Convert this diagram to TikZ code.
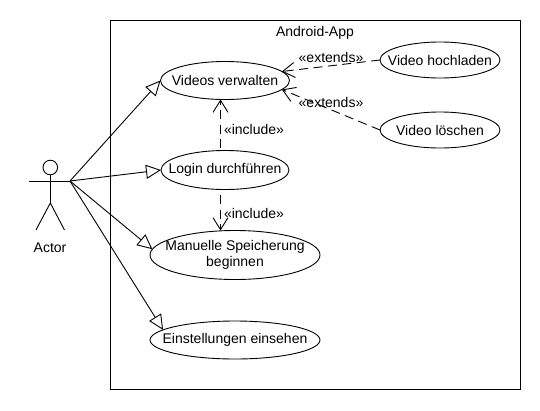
\documentclass[tikz,border=0pt]{standalone}
\usepackage{fontspec}
\setmainfont{Liberation Sans}
\usetikzlibrary{arrows.meta}
\usetikzlibrary{shapes.geometric}
\tikzset{
  usecase/.style={draw=black,fill=white,ellipse,inner sep=0pt,outer sep=0pt},
  label text/.style={inner sep=0pt,font=\fontsize{14}{16}\selectfont,text=black,align=center},
  general/.style={draw=black,line width=0.9pt,-{Triangle[open,fill=white,length=15pt,width=14pt,line width=0.9pt]}},
  dep/.style={draw=black,line width=0.9pt,dash pattern=on 9pt off 5.5pt,-{Straight Barb[length=12pt,width=15pt,line width=0.9pt]}},
  limb/.style={draw=black,line width=0.9pt},
}
\begin{document}
\begin{tikzpicture}[x=1pt,y=-1pt,line width=0.9pt]
\useasboundingbox (0,0) rectangle (540,410);
\fill[white] (0,0) rectangle (540,410);
\node[draw=black,minimum width=410pt,minimum height=369pt,inner sep=0pt,outer sep=0pt] (frame) at (315,204.5) {};
\node[label text] (title) at (315,33) {Android-App};
% actor
\node[draw=black,circle,minimum size=14.6pt,inner sep=0pt,outer sep=0pt] (head) at (50.3,167.5) {};
\coordinate (hip) at (50.3,203);
\coordinate (handL) at (29,181);
\coordinate (handR) at (70,181);
\coordinate (footL) at (36,230);
\coordinate (footR) at (64.5,230);
\draw[limb] (head.south) -- (hip);
\draw[limb] (handL) -- (handR);
\draw[limb] (footL) -- (hip) -- (footR);
\node[label text] (actor) at (50,248) {Actor};
% use cases
\node[usecase,minimum width=129pt,minimum height=38pt,label={[label text]center:Videos verwalten}] (videos) at (225,80.5) {};
\node[usecase,minimum width=120pt,minimum height=36pt,label={[label text]center:Video hochladen}] (upload) at (440,60) {};
\node[usecase,minimum width=120pt,minimum height=36pt,label={[label text]center:Video löschen}] (delete) at (440,130) {};
\node[usecase,minimum width=128pt,minimum height=39pt,label={[label text]center:Login durchführen}] (login) at (225,170) {};
\node[usecase,minimum width=170pt,minimum height=49pt,label={[label text]center:{Manuelle Speicherung\\beginnen}}] (manual) at (235,255) {};
\node[usecase,minimum width=170pt,minimum height=38pt,label={[label text]center:Einstellungen einsehen}] (settings) at (235,340) {};
% generalisations
\draw[general] (handR) -- (videos.west);
\draw[general] (handR) -- (login.west);
\draw[general] (handR) -- (manual.176.5);
\draw[general] (handR) -- (settings.172.6);
% dependencies
\draw[dep] (upload.west) -- (videos.9);
\draw[dep] (delete.west) -- (videos.-9);
\coordinate (inclA) at (220.5,148);
\coordinate (inclB) at (220.5,195);
\draw[dep] (inclA) -- (videos.south -| inclA);
\draw[dep] (inclB) -- (manual.north -| inclB);
% labels
\node[label text] (ext1) at (331,57) {«extends»};
\node[label text] (ext2) at (331,102) {«extends»};
\node[label text] (inc1) at (254,129) {«include»};
\node[label text] (inc2) at (254,213) {«include»};
\end{tikzpicture}
\end{document}
